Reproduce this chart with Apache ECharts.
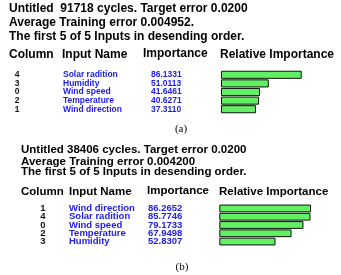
<!DOCTYPE html>
<html>
<head>
<meta charset="utf-8">
<script src="https://cdn.jsdelivr.net/npm/echarts@6/dist/echarts.min.js"></script>
<style>
  html, body { margin: 0; padding: 0; background: #fff; }
  #chart { width: 341px; height: 275px; }
</style>
</head>
<body>
<div id="chart"></div>
<script>
// panel (a)
const headA = ['Untitled  91718 cycles. Target error 0.0200', 'Average Training error 0.004952.', 'The first 5 of 5 Inputs in desending order.']
const colsA = ['4', '3', '0', '2', '1']
const namesA = ['Solar radition', 'Humidity', 'Wind speed', 'Temperature', 'Wind direction']
const valuesA = [86.1331, 51.0113, 41.6461, 40.6271, 37.3110]

// panel (b)
const headB = ['Untitled 38406 cycles. Target error 0.0200', 'Average Training error 0.004200', 'The first 5 of 5 Inputs in desending order.']
const colsB = ['1', '4', '0', '2', '3']
const namesB = ['Wind direction', 'Solar radition', 'Wind speed', 'Temperature', 'Humidity']
const valuesB = [86.2652, 85.7746, 79.1733, 67.9498, 52.8307]

const colHeads = ['Column', 'Input Name', 'Importance', 'Relative Importance']

const FONT = '"Liberation Sans", Arial, sans-serif'
const chart = echarts.init(document.getElementById('chart'), null, { renderer: 'canvas' })

function txt(s, x, y, size, opts = {}) {
  return {
    type: 'text', x, y, silent: true,
    style: {
      text: s, fontFamily: opts.family || FONT, fontSize: size,
      fontWeight: opts.weight || 'bold', fill: opts.color || '#000',
      align: opts.align || 'left', verticalAlign: 'middle'
    }
  }
}

// panel layouts: left edge of text, line y's, column x's
const pa = { x: 9, lines: [9, 23, 37], head: 55, hx: [9, 62, 143, 220], fs: 12, cap: [181, 129] }
const pb = { x: 21, lines: [150, 161.5, 172], head: 192, hx: [21, 69, 147, 219], fs: 11.5, cap: [182, 267] }

const graphic = []
;[[pa, headA], [pb, headB]].forEach(([p, head]) => {
  head.forEach((s, i) => graphic.push(txt(s, p.x, p.lines[i], p.fs)))
  colHeads.forEach((s, i) => graphic.push(txt(s, p.hx[i], p.head - (i === 2 ? 1.5 : 0), p.fs)))
})
graphic.push(txt('(a)', pa.cap[0], pa.cap[1], 11, { family: '"Liberation Serif", serif', weight: 'normal', align: 'center' }))
graphic.push(txt('(b)', pb.cap[0], pb.cap[1], 11, { family: '"Liberation Serif", serif', weight: 'normal', align: 'center' }))

function yAxes(gridIndex, cols, names, vals, left, colX, nameX, valX, fs) {
  const base = {
    type: 'category', gridIndex, inverse: true, position: 'left', offset: 0,
    axisLine: { show: false }, axisTick: { show: false }, splitLine: { show: false }
  }
  const lab = { interval: 0, fontSize: fs, fontWeight: 'bold', fontFamily: FONT }
  return [
    { ...base, data: cols, axisLabel: { ...lab, align: 'center', margin: left - colX, color: '#111' } },
    { ...base, data: names, axisLabel: { ...lab, align: 'left', margin: left - nameX, color: '#2020e8' } },
    { ...base, data: vals.map(v => v.toFixed(4)), axisLabel: { ...lab, align: 'left', margin: left - valX, color: '#2020e8' } }
  ]
}

const xBase = { type: 'value', min: 0, max: 100, show: false }
const barStyle = { color: '#62f062', borderColor: '#111', borderWidth: 1 }

chart.setOption({
  animation: false,
  graphic,
  grid: [
    { left: 221, top: 70.5, width: 93.7, height: 43, containLabel: false, outerBoundsMode: 'none' },
    { left: 219.3, top: 204.3, width: 106.3, height: 41.4, containLabel: false, outerBoundsMode: 'none' }
  ],
  xAxis: [{ ...xBase, gridIndex: 0 }, { ...xBase, gridIndex: 1 }],
  yAxis: [
    ...yAxes(0, colsA, namesA, valuesA, 221, 17, 63, 151, 8.5),
    ...yAxes(1, colsB, namesB, valuesB, 219.3, 43, 69, 148, 9.5)
  ],
  series: [
    { type: 'bar', xAxisIndex: 0, yAxisIndex: 0, data: valuesA, barCategoryGap: '6%', itemStyle: barStyle, silent: true },
    { type: 'bar', xAxisIndex: 1, yAxisIndex: 3, data: valuesB, barCategoryGap: '6%', itemStyle: barStyle, silent: true }
  ]
})
</script>
</body>
</html>
